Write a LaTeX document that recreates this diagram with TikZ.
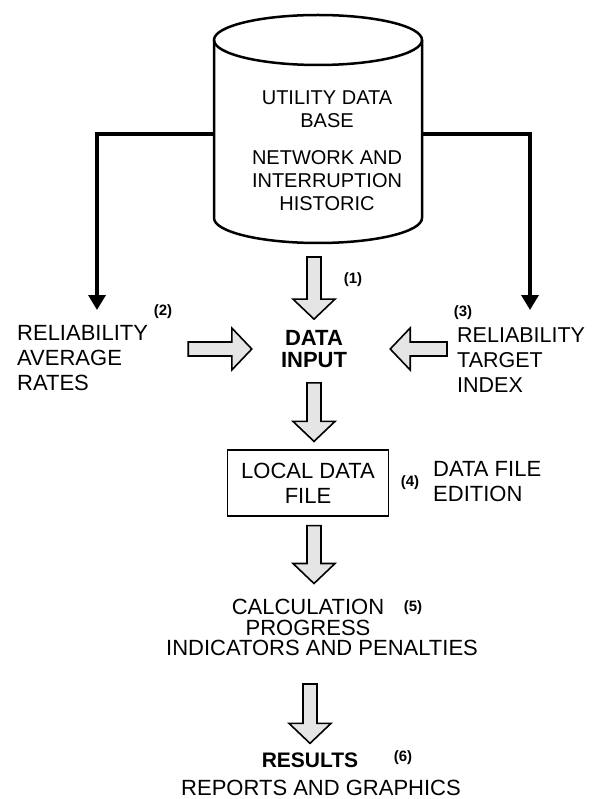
\documentclass[tikz,border=0pt]{standalone}
\usepackage{fontspec}
\setmainfont{Liberation Sans}
\usetikzlibrary{positioning,calc,arrows.meta}

\begin{document}
\begin{tikzpicture}[x=1pt,y=-1pt,
    lbl/.style={inner sep=0pt,font=\fontsize{22}{25}\selectfont},
    num/.style={inner sep=0pt,font=\fontsize{15}{18}\selectfont\bfseries},
    feed/.style={line width=3.5pt,-{Triangle[width=17pt,length=15pt]}},
    fatarrow/.style={draw,fill=black!10,line width=1.6pt,line join=miter,
      to path={($(\tikztotarget)!20pt!(\tikztostart)$) coordinate (fah)
        ($(\tikztostart)!7pt!90:(\tikztotarget)$) -- ($(fah)!7pt!90:(\tikztotarget)$)
        -- ($(fah)!21pt!90:(\tikztotarget)$) -- (\tikztotarget)
        -- ($(fah)!21pt!-90:(\tikztotarget)$) -- ($(fah)!7pt!-90:(\tikztotarget)$)
        -- ($(\tikztostart)!7pt!-90:(\tikztotarget)$) -- cycle}}]
  \useasboundingbox (0,0) rectangle (599,799);

  % data base cylinder
  \node[minimum width=208pt,minimum height=178pt,inner sep=0pt,outer sep=0pt] (db) at (318,129) {};
  \draw[line width=2.5pt] (db.north west) -- (db.south west)
    arc[start angle=180,end angle=360,x radius=104pt,y radius=25pt] -- (db.north east);
  \draw[line width=2.5pt] (db.north) ellipse[x radius=104pt,y radius=25pt];
  \node[lbl,font=\fontsize{20}{23}\selectfont,align=center] (dbt) at (327,151)
    {UTILITY DATA\\BASE\\[14pt]NETWORK AND\\INTERRUPTION\\HISTORIC};

  \node[lbl,font=\fontsize{22}{22}\selectfont\bfseries,align=center] (din) at (314,349) {DATA\\INPUT};
  \node[lbl,align=left,anchor=west] (rar) at (17,358) {RELIABILITY\\AVERAGE\\RATES};
  \node[lbl,font=\fontsize{21.5}{25}\selectfont,align=left,anchor=west] (rti) at (457,360) {RELIABILITY\\TARGET\\INDEX};
  \node[lbl,draw,line width=1.2pt,minimum width=161pt,minimum height=66pt,align=center] (ldf) at (308,483) {LOCAL DATA\\FILE};
  \node[lbl,align=left,anchor=west] (dfe) at (433,482) {DATA FILE\\EDITION};
  \node[lbl,font=\fontsize{22}{21}\selectfont,align=center] (calc) at (308,617) {CALCULATION\\PROGRESS};
  \node[lbl] (ind) at (322,648) {INDICATORS AND PENALTIES};
  \node[lbl,font=\fontsize{21}{25}\selectfont\bfseries] (res) at (310,760) {RESULTS};
  \node[lbl] (rep) at (321,788) {REPORTS AND GRAPHICS};

  \node[num] (n1) at (353,280) {(1)};
  \node[num] (n2) at (163,312) {(2)};
  \node[num] (n3) at (463,313) {(3)};
  \node[num] (n4) at (410,483) {(4)};
  \node[num] (n5) at (413,608) {(5)};
  \node[num] (n6) at (403,758) {(6)};

  \coordinate (tipL) at (97,310);
  \coordinate (tipR) at (530,310);
  \draw[feed] ([yshift=-5pt]db.west) -| (tipL);
  \draw[feed] ([yshift=-5pt]db.east) -| (tipR);

  \draw[fatarrow] ([yshift=-39pt]din.north |- db.south) to ([yshift=11pt]din.north);
  \draw[fatarrow] ([xshift=40pt]rar.east |- din.center) to ([xshift=-29pt]din.west);
  \draw[fatarrow] ([xshift=-10pt]rti.west |- din.center) to ([xshift=43pt]din.east);
  \draw[fatarrow] ([yshift=-15pt]din.south) to ([yshift=8pt]din.south |- ldf.north);
  \draw[fatarrow] ([yshift=-9pt]din.south |- ldf.south) to ([yshift=15pt]din.south |- calc.north);
  \draw[fatarrow] ([yshift=-28pt]res.north |- ind.south) to ([yshift=9pt]res.north);
\end{tikzpicture}
\end{document}
